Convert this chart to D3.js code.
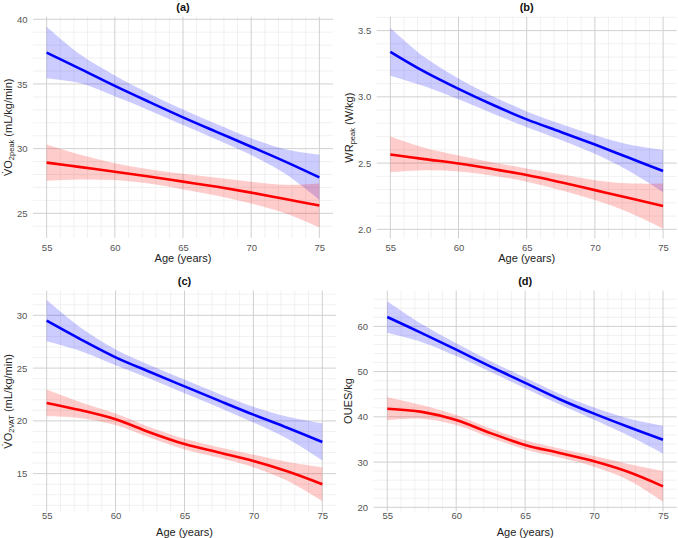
<!DOCTYPE html>
<html>
<head>
	<meta charset=utf-8>
	<title>Age trends</title>
	<script src="https://d3js.org/d3.v7.min.js"></script>
	<style type="text/css">
		body{
			margin: 0;
			background: #fff;
		}
		svg text{
			font-family: "Liberation Sans", Arial, sans-serif;
		}
	</style>
</head>
<body>
	<script type="text/javascript">
		// fitted values, every 2.5 years
		const ages = [55, 57.5, 60, 62.5, 65, 67.5, 70, 72.5, 75];
		const xTicks = [55, 60, 65, 70, 75];

		// (a) VO2peak
		const vo2peakBlue   = [37.42, 36.15, 34.85, 33.62, 32.42, 31.28, 30.15, 29.00, 27.78];
		const vo2peakBlueLo = [35.42, 35.05, 34.05, 32.97, 31.82, 30.68, 29.50, 28.05, 26.03];
		const vo2peakBlueHi = [39.42, 37.25, 35.65, 34.27, 33.02, 31.88, 30.80, 29.95, 29.53];
		const vo2peakRed    = [28.92, 28.57, 28.22, 27.85, 27.45, 27.05, 26.60, 26.10, 25.60];
		const vo2peakRedLo  = [27.52, 27.62, 27.57, 27.30, 26.85, 26.35, 25.75, 25.00, 23.90];
		const vo2peakRedHi  = [30.32, 29.52, 28.87, 28.40, 28.05, 27.75, 27.45, 27.20, 27.30];
		const vo2peakTicks  = [25, 30, 35, 40];

		// (b) WRpeak
		const wrpeakBlue   = [3.34, 3.19, 3.06, 2.94, 2.83, 2.735, 2.64, 2.54, 2.44];
		const wrpeakBlueLo = [3.16, 3.08, 2.982, 2.875, 2.77, 2.675, 2.57, 2.44, 2.28];
		const wrpeakBlueHi = [3.52, 3.30, 3.138, 3.005, 2.89, 2.795, 2.71, 2.64, 2.60];
		const wrpeakRed    = [2.565, 2.53, 2.497, 2.455, 2.41, 2.355, 2.296, 2.237, 2.176];
		const wrpeakRedLo  = [2.43, 2.445, 2.437, 2.405, 2.36, 2.295, 2.221, 2.127, 2.006];
		const wrpeakRedHi  = [2.70, 2.615, 2.557, 2.505, 2.46, 2.415, 2.371, 2.347, 2.346];
		const wrpeakTicks  = [2.0, 2.5, 3.0, 3.5];

		// (c) VO2VAT
		const vo2vatBlue   = [29.49, 27.70, 26.02, 24.63, 23.27, 21.92, 20.59, 19.33, 18.00];
		const vo2vatBlueLo = [27.54, 26.60, 25.27, 23.98, 22.62, 21.27, 19.84, 18.28, 16.25];
		const vo2vatBlueHi = [31.44, 28.80, 26.77, 25.28, 23.92, 22.57, 21.34, 20.38, 19.75];
		const vo2vatRed    = [21.70, 21.00, 20.15, 18.90, 17.80, 17.00, 16.20, 15.20, 14.00];
		const vo2vatRedLo  = [20.43, 20.25, 19.60, 18.40, 17.30, 16.50, 15.60, 14.30, 12.40];
		const vo2vatRedHi  = [22.97, 21.75, 20.70, 19.40, 18.30, 17.50, 16.80, 16.10, 15.60];
		const vo2vatTicks  = [15, 20, 25, 30];

		// (d) OUES/kg
		const ouesBlue   = [62.06, 58.50, 54.84, 51.10, 47.50, 43.90, 40.70, 37.75, 34.95];
		const ouesBlueLo = [58.56, 56.50, 53.44, 49.90, 46.30, 42.70, 39.35, 35.85, 31.85];
		const ouesBlueHi = [65.56, 60.50, 56.24, 52.30, 48.70, 45.10, 42.05, 39.65, 38.05];
		const ouesRed    = [41.80, 41.10, 39.30, 36.40, 33.80, 32.00, 30.17, 27.80, 24.64];
		const ouesRedLo  = [39.25, 39.60, 38.20, 35.40, 32.80, 31.00, 28.97, 26.00, 21.24];
		const ouesRedHi  = [44.35, 42.60, 40.40, 37.40, 34.80, 33.00, 31.37, 29.60, 28.04];
		const ouesTicks  = [20, 30, 40, 50, 60];

		const W = 678, H = 538;
		const panels = [
			{title: '(a)', left: 33, right: 333, top: 16.7, bottom: 237.9, yDomain: [23.1, 40.2],
				ticks: vo2peakTicks, minorStep: 1, fmt: d3.format('d'),
				label: [['V\u0307O', 0], ['2peak', 1], [' (mL/kg/min)', 0]], titleY: 11, xAxisY: 244.3, xTitleY: 262,
				series: [[vo2peakBlue, vo2peakBlueLo, vo2peakBlueHi, 'blue'], [vo2peakRed, vo2peakRedLo, vo2peakRedHi, 'red']]},
			{title: '(b)', left: 376.7, right: 676.7, top: 16.7, bottom: 238.6, yDomain: [1.93, 3.605],
				ticks: wrpeakTicks, minorStep: 0.1, fmt: d3.format('.1f'),
				label: [['WR', 0], ['peak', 1], [' (W/kg)', 0]], titleY: 11, xAxisY: 244.3, xTitleY: 262,
				series: [[wrpeakBlue, wrpeakBlueLo, wrpeakBlueHi, 'blue'], [wrpeakRed, wrpeakRedLo, wrpeakRedHi, 'red']]},
			{title: '(c)', left: 32.9, right: 336.1, top: 290.5, bottom: 512.2, yDomain: [11.35, 32.35],
				ticks: vo2vatTicks, minorStep: 1, fmt: d3.format('d'),
				label: [['V\u0307O', 0], ['2VAT', 1], [' (mL/kg/min)', 0]], titleY: 285, xAxisY: 512.3, xTitleY: 536,
				series: [[vo2vatBlue, vo2vatBlueLo, vo2vatBlueHi, 'blue'], [vo2vatRed, vo2vatRedLo, vo2vatRedHi, 'red']]},
			{title: '(d)', left: 373.5, right: 676.8, top: 290.6, bottom: 511.4, yDomain: [19.1, 67.9],
				ticks: ouesTicks, minorStep: 2, fmt: d3.format('d'),
				label: [['OUES/kg', 0]], titleY: 285, xAxisY: 512.3, xTitleY: 536,
				series: [[ouesBlue, ouesBlueLo, ouesBlueHi, 'blue'], [ouesRed, ouesRedLo, ouesRedHi, 'red']]}
		];

		const svg = d3.select('body')
			.append('svg')
			.attr('width', W)
			.attr('height', H);

		panels.forEach(function(p){
			const g = svg.append('g');
			const x = d3.scaleLinear().domain([54, 76]).range([p.left, p.right]);
			const y = d3.scaleLinear().domain(p.yDomain).range([p.bottom, p.top]);
			const eps = 1e-6;

			// minor grid
			const xMinor = d3.range(55, 75.5, 1).filter(v => xTicks.indexOf(v) < 0);
			const yMinor = d3.range(Math.ceil(p.yDomain[0] / p.minorStep) * p.minorStep, p.yDomain[1] + eps, p.minorStep)
				.map(v => +v.toFixed(3))
				.filter(v => !p.ticks.some(t => Math.abs(t - v) < eps));

			g.append('g').selectAll('line')
				.data(xMinor).enter().append('line')
				.attr('x1', d => x(d)).attr('x2', d => x(d))
				.attr('y1', p.top).attr('y2', p.bottom)
				.attr('stroke', '#ebebeb').attr('stroke-width', 0.7);
			g.append('g').selectAll('line')
				.data(yMinor).enter().append('line')
				.attr('x1', p.left).attr('x2', p.right)
				.attr('y1', d => y(d)).attr('y2', d => y(d))
				.attr('stroke', '#ebebeb').attr('stroke-width', 0.7);

			// major grid
			g.append('g').selectAll('line')
				.data(xTicks).enter().append('line')
				.attr('x1', d => x(d)).attr('x2', d => x(d))
				.attr('y1', p.top).attr('y2', p.bottom)
				.attr('stroke', '#d0d0d0').attr('stroke-width', 1);
			g.append('g').selectAll('line')
				.data(p.ticks).enter().append('line')
				.attr('x1', p.left).attr('x2', p.right)
				.attr('y1', d => y(d)).attr('y2', d => y(d))
				.attr('stroke', '#d0d0d0').attr('stroke-width', 1);

			// ribbons then lines
			const curve = d3.curveCatmullRom.alpha(0.5);
			const area = d3.area()
				.x(d => x(d.age))
				.y0(d => y(d.lo))
				.y1(d => y(d.hi))
				.curve(curve);
			const line = d3.line()
				.x(d => x(d.age))
				.y(d => y(d.v))
				.curve(curve);

			p.series.forEach(function(s){
				const rows = ages.map((a, i) => ({age: a, v: s[0][i], lo: s[1][i], hi: s[2][i]}));
				g.append('path')
					.datum(rows)
					.attr('d', area)
					.attr('fill', s[3])
					.attr('fill-opacity', 0.2);
			});
			p.series.forEach(function(s){
				const rows = ages.map((a, i) => ({age: a, v: s[0][i]}));
				g.append('path')
					.datum(rows)
					.attr('d', line)
					.attr('fill', 'none')
					.attr('stroke', s[3])
					.attr('stroke-width', 2.6);
			});

			// axes
			const yAxis = g.append('g')
				.attr('transform', `translate(${p.left},0)`)
				.call(d3.axisLeft(y).tickValues(p.ticks).tickFormat(p.fmt).tickSize(0).tickPadding(5.5));
			const xAxis = g.append('g')
				.attr('transform', `translate(0,${p.xAxisY})`)
				.call(d3.axisBottom(x).tickValues(xTicks).tickSize(0).tickPadding(0));
			[yAxis, xAxis].forEach(function(a){
				a.select('.domain').remove();
				a.selectAll('text')
					.attr('fill', '#555')
					.style('font-size', '9.5px');
			});

			// titles
			g.append('text')
				.attr('x', (p.left + p.right) / 2)
				.attr('y', p.titleY)
				.attr('text-anchor', 'middle')
				.style('font-size', '11px')
				.style('font-weight', 'bold')
				.attr('fill', '#111')
				.text(p.title);

			g.append('text')
				.attr('x', (p.left + p.right) / 2)
				.attr('y', p.xTitleY)
				.attr('text-anchor', 'middle')
				.style('font-size', '11px')
				.attr('fill', '#222')
				.text('Age (years)');

			const labelsLeft = yAxis.node().getBBox().x + p.left;
			const yt = g.append('text')
				.attr('transform', `translate(${labelsLeft - 9},${(p.top + p.bottom) / 2}) rotate(-90)`)
				.attr('y', 4)
				.attr('text-anchor', 'middle')
				.style('font-size', '11px')
				.attr('fill', '#222');
			let shifted = 0;
			p.label.forEach(function(part){
				const sub = part[1];
				yt.append('tspan')
					.attr('dy', sub ? 2.5 : (shifted ? -2.5 : 0))
					.style('font-size', sub ? '7.5px' : '11px')
					.text(part[0]);
				shifted = sub;
			});
		});
	</script>
</body>
</html>
